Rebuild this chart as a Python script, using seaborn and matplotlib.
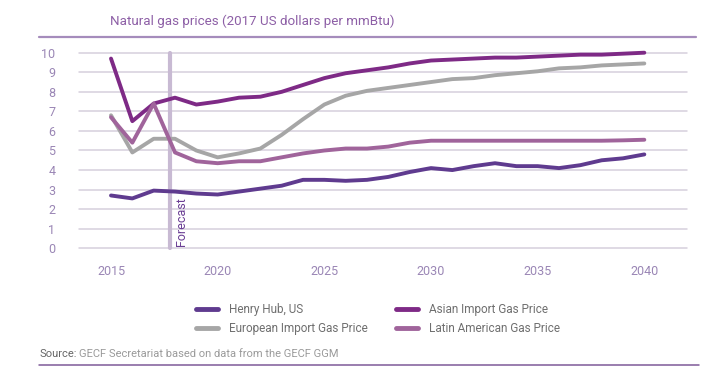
import pandas as pd
import numpy as np
import matplotlib.pyplot as plt
import seaborn as sns

sns.set_style("white")
plt.rcParams['font.family'] = ['Roboto', 'DejaVu Sans']

years = list(range(2015, 2041))

henry_hub = [2.7, 2.55, 2.95, 2.9, 2.8, 2.75, 2.9, 3.05, 3.2, 3.5,
             3.5, 3.45, 3.5, 3.65, 3.9, 4.1, 4.0, 4.2, 4.35, 4.2,
             4.2, 4.1, 4.25, 4.5, 4.6, 4.8]
asian = [9.7, 6.5, 7.4, 7.7, 7.35, 7.5, 7.7, 7.75, 8.0, 8.35,
         8.7, 8.95, 9.1, 9.25, 9.45, 9.6, 9.65, 9.7, 9.75, 9.75,
         9.8, 9.85, 9.9, 9.9, 9.95, 10.0]
european = [6.8, 4.9, 5.6, 5.6, 5.0, 4.65, 4.85, 5.1, 5.8, 6.6,
            7.35, 7.8, 8.05, 8.2, 8.35, 8.5, 8.65, 8.7, 8.85, 8.95,
            9.05, 9.2, 9.25, 9.35, 9.4, 9.45]
latin = [6.7, 5.4, 7.4, 4.9, 4.45, 4.35, 4.45, 4.45, 4.65, 4.85,
         5.0, 5.1, 5.1, 5.2, 5.4, 5.5, 5.5, 5.5, 5.5, 5.5,
         5.5, 5.5, 5.5, 5.5, 5.52, 5.55]

names = ["Henry Hub, US", "European Import Gas Price",
         "Asian Import Gas Price", "Latin American Gas Price"]
colors = ["#5f3b8f", "#a6a6a6", "#7e2a86", "#a0649b"]
forecast_year = 2017.75

df = pd.concat([
    pd.DataFrame({"year": years, "price": vals, "series": name})
    for name, vals in zip(names, [henry_hub, european, asian, latin])
])

fig = plt.figure(figsize=(7.23, 3.77), dpi=100)
ax = fig.add_axes([79/723, 1-248.3/377, 608/723, 195.6/377])

# gridlines
for v in range(0, 11):
    ax.axhline(v, color="#d6d0dc", lw=1.1, zorder=0)

ax.axvline(forecast_year, color="#c8bad3", lw=3, zorder=1)
ax.text(forecast_year + 0.25, 0.1, "Forecast", rotation=90, color="#6b3f95",
        fontsize=9, ha="left", va="bottom")

sns.lineplot(data=df, x="year", y="price", hue="series", hue_order=names,
             palette=dict(zip(names, colors)), linewidth=2.8, ax=ax, zorder=3)
for ln in ax.lines:
    ln.set_clip_on(False)
    ln.set_solid_capstyle("round")

handles, labels = ax.get_legend_handles_labels()
ax.get_legend().remove()
for h in handles:
    h.set_linewidth(3.5)
    h.set_solid_capstyle("round")
fig.legend(handles, labels, ncol=2, frameon=False, loc="upper left",
           bbox_to_anchor=(190/723, 1-297/377), fontsize=8.5, handlelength=1.9,
           columnspacing=2.4, labelspacing=0.55, handletextpad=0.9,
           borderpad=0, labelcolor="#6f6f6f")

ax.set_xlim(2013.5, 2042)
ax.set_ylim(0, 10)
ax.set_xticks(range(2015, 2041, 5))
ax.set_yticks(range(0, 11))
ax.tick_params(length=0, labelsize=9, labelcolor="#9a86b5")
ax.tick_params(axis="x", pad=12)
ax.tick_params(axis="y", pad=17)
ax.set_xlabel("")
ax.set_ylabel("")
sns.despine(ax=ax, left=True, bottom=True)

fig.text(110/723, 1-21/377, "Natural gas prices (2017 US dollars per mmBtu)",
         color="#8d5fa6", fontsize=9.6, va="center", ha="left")
fig.add_artist(plt.Line2D([39/723, 696/723], [1-37/377, 1-37/377],
                          color="#a58cbc", lw=1.6))

t1 = fig.text(39/723, 1-354/377, "Source:", color="#666666", fontsize=8,
              va="center", ha="left")
fig.canvas.draw()
bb = t1.get_window_extent()
fig.text(bb.x1 / fig.bbox.width + 0.004, 1-354/377,
         "GECF Secretariat based on data from the GECF GGM",
         color="#9a9a9a", fontsize=8, va="center", ha="left")
fig.add_artist(plt.Line2D([39/723, 699/723], [1-364.5/377, 1-364.5/377],
                          color="#7e5a98", lw=1.1))

fig.savefig("out.png", dpi=100)
